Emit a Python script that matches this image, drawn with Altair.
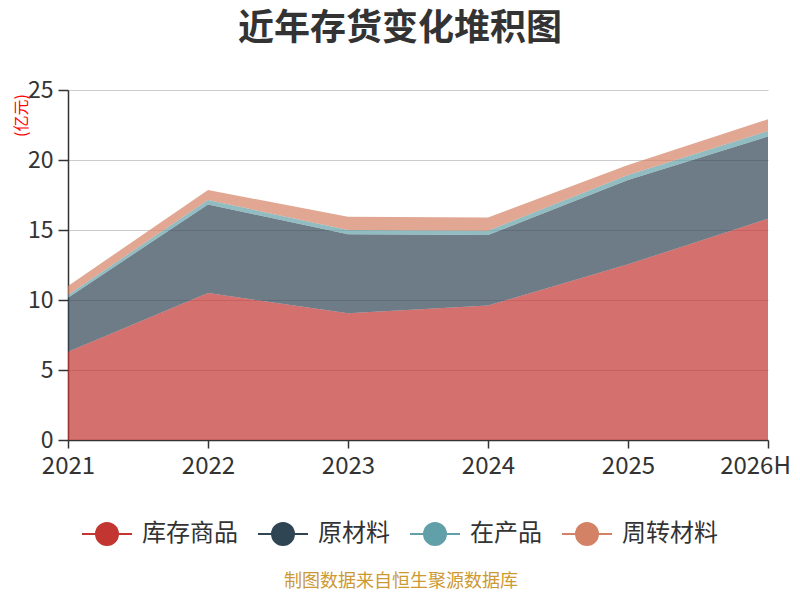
import altair as alt
import pandas as pd

years = ["2021", "2022", "2023", "2024", "2025", "2026H"]
series = ["库存商品", "原材料", "在产品", "周转材料"]
kucun = [6.3, 10.5, 9.05, 9.6, 12.55, 15.8]
yuancailiao = [3.86, 6.33, 5.64, 5.04, 6.02, 5.88]
zaichanpin = [0.2, 0.31, 0.31, 0.31, 0.36, 0.4]
zhouzhuan = [0.64, 0.72, 0.95, 0.95, 0.71, 0.83]
colors = ["#c23531", "#2f4554", "#61a0a8", "#d48265"]
y_ticks = [0, 5, 10, 15, 20, 25]
title_text = "近年存货变化堆积图"
unit_text = "(亿元)"
source_text = "制图数据来自恒生聚源数据库"

FONT = "Noto Sans CJK SC"

rows = []
for si, (name, vals) in enumerate(zip(series, [kucun, yuancailiao, zaichanpin, zhouzhuan])):
    for y, v in zip(years, vals):
        rows.append({"year": y, "series": name, "value": v, "ord": si})
df = pd.DataFrame(rows)

legend_path = ("M-1,0L-0.44,0M0.44,0A0.44,0.44,0,1,1,-0.44,0"
               "A0.44,0.44,0,1,1,0.44,0ZM0.44,0L1,0")

area = alt.Chart(df).mark_area(opacity=0.7).encode(
    x=alt.X("year:O", sort=years, scale=alt.Scale(type="point", padding=0),
            axis=alt.Axis(title=None, labelAngle=0, labelFontSize=24, labelColor="#333",
                          labelFont=FONT, domainColor="#333", domainWidth=1.5,
                          tickColor="#333", tickWidth=1.5, tickSize=8, labelPadding=6,
                          grid=False,
                          labelOffset=alt.condition("datum.value == '2026H'",
                                                    alt.value(-13), alt.value(0)))),
    y=alt.Y("value:Q", stack="zero",
            scale=alt.Scale(domain=[0, 25], nice=False),
            axis=alt.Axis(values=y_ticks, title=unit_text, titleColor="red",
                          titleFont=FONT, titleFontSize=16, titleFontWeight="normal",
                          titleAngle=270, titleX=-47, titleY=25, titleAlign="center",
                          titleBaseline="middle",
                          labelFontSize=23, labelColor="#333", labelFont=FONT,
                          domainColor="#333", domainWidth=1.5, tickColor="#333",
                          tickWidth=1.5, tickSize=10, labelPadding=5,
                          gridColor="#cccccc", gridWidth=1.2)),
    color=alt.Color("series:N", sort=series,
                    scale=alt.Scale(domain=series, range=colors),
                    legend=alt.Legend(orient="none", legendX=13, legendY=418,
                                      direction="horizontal", title=None,
                                      symbolType=legend_path, symbolSize=2500,
                                      symbolStrokeWidth=2, symbolOpacity=1,
                                      symbolStrokeColor={"expr": "scale('color', datum.value)"},
                                      labelFontSize=24, labelColor="#333", labelFont=FONT,
                                      labelOffset=9, columnPadding=16, padding=0)),
    order=alt.Order("ord:Q"),
)

note = alt.Chart(pd.DataFrame({"t": [source_text]})).mark_text(
    font=FONT, fontSize=18, color="#cc9933", align="center", baseline="middle"
).encode(text="t:N", x=alt.value(333), y=alt.value(492))

chart = alt.layer(area, note).properties(
    width=700, height=350,
    autosize=alt.AutoSizeParams(type="none"),
    padding={"left": 60, "top": 82, "right": 24, "bottom": 152},
    title=alt.TitleParams(title_text, fontSize=36, fontWeight="bold", color="#333",
                          font=FONT, anchor="middle", dx=-18, offset=31),
).configure_view(stroke=None)

chart.save("out.html", embed_options={"renderer": "svg", "actions": False})
